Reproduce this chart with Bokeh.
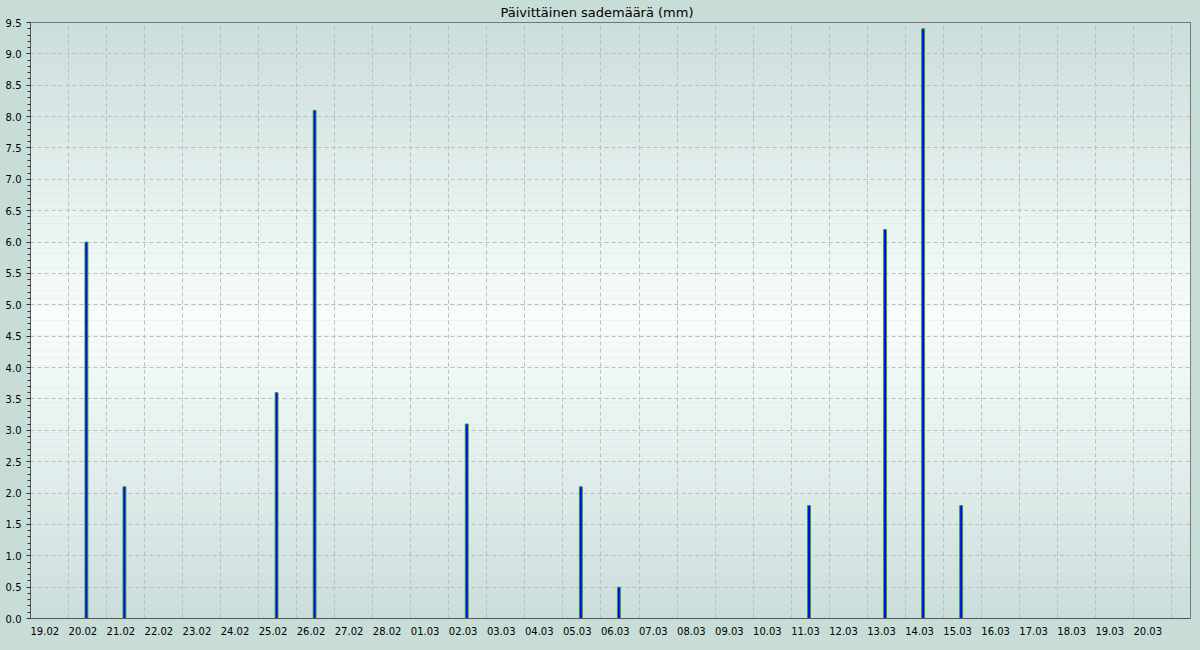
from bokeh.plotting import figure
from bokeh.models import Range1d, FixedTicker, SingleIntervalTicker, PrintfTickFormatter, CustomJSTickFormatter, ColumnDataSource
from bokeh.embed import file_html
from bokeh.resources import INLINE

# ---- data ----
dates = ["19.02", "20.02", "21.02", "22.02", "23.02", "24.02", "25.02", "26.02", "27.02", "28.02",
         "01.03", "02.03", "03.03", "04.03", "05.03", "06.03", "07.03", "08.03", "09.03", "10.03",
         "11.03", "12.03", "13.03", "14.03", "15.03", "16.03", "17.03", "18.03", "19.03", "20.03"]
rain = [0, 6.0, 2.1, 0, 0, 0, 3.6, 8.1, 0, 0,
        0, 3.1, 0, 0, 2.1, 0.5, 0, 0, 0, 0,
        1.8, 0, 6.2, 9.4, 1.8, 0, 0, 0, 0, 0]
title_text = "Päivittäinen sademäärä (mm)"

FONT = "DejaVu Sans"
BG = "#c8dcd8"
X_END = len(dates) + 0.5
Y_END = 9.5

p = figure(width=1200, height=650, output_backend="svg", toolbar_location=None,
           x_range=Range1d(0, X_END), y_range=Range1d(0, Y_END),
           min_border_left=30, min_border_right=10, min_border_top=22, min_border_bottom=32,
           border_fill_color=BG, background_fill_color=BG, title=title_text)
p.outline_line_color = "#555555"
p.outline_line_width = 1

p.title.text_font = FONT
p.title.text_font_size = "13px"
p.title.text_font_style = "normal"
p.title.text_color = "#000000"
p.title.align = "left"
p.title.offset = 470
p.title.standoff = 5

# vertical gradient background inside plot frame
N = 80
c_edge = (203, 222, 219)
c_mid = (248, 253, 253)
bots, tops, cols = [], [], []
for k in range(N):
    y0 = Y_END * k / N
    y1 = Y_END * (k + 1) / N
    t = abs(((y0 + y1) / 2) / Y_END - 0.5) * 2
    c = tuple(int(round(c_mid[j] + (c_edge[j] - c_mid[j]) * t)) for j in range(3))
    bots.append(y0); tops.append(y1); cols.append("#%02x%02x%02x" % c)
p.quad(left=0, right=X_END, bottom=bots, top=tops, fill_color=cols, line_color=None, level="image")

# bars
idx = [i for i, v in enumerate(rain) if v > 0]
src = ColumnDataSource(dict(x=[i + 0.47 for i in idx], top=[rain[i] for i in idx]))
p.vbar(x="x", top="top", bottom=0, width=0.075, source=src,
       fill_color="#0000ff", line_color="#33a033", line_width=1)

# axes
xa = p.xaxis[0]
xa.ticker = FixedTicker(ticks=[i + 0.376 for i in range(len(dates))])
xa.formatter = CustomJSTickFormatter(args=dict(labels=dates),
                                     code="return labels[Math.round(tick - 0.376)] || '';")
xa.major_tick_line_color = None
xa.minor_tick_line_color = None
xa.axis_line_color = "#555555"
xa.major_label_text_font = FONT
xa.major_label_text_font_size = "10px"
xa.major_label_text_color = "#000000"
xa.major_label_standoff = 2

ya = p.yaxis[0]
ya.ticker = SingleIntervalTicker(interval=0.5, num_minor_ticks=5)
ya.formatter = PrintfTickFormatter(format="%.1f")
ya.axis_line_color = "#555555"
ya.major_tick_line_color = "#333333"
ya.minor_tick_line_color = "#333333"
ya.major_tick_in = 0
ya.major_tick_out = 4
ya.minor_tick_in = 0
ya.minor_tick_out = 3
ya.major_label_text_font = FONT
ya.major_label_text_font_size = "10px"
ya.major_label_text_color = "#000000"
ya.major_label_standoff = 5

# grids
p.xgrid.ticker = FixedTicker(ticks=list(range(0, len(dates) + 1)))
for g in (p.xgrid, p.ygrid):
    g.grid_line_color = "#bdbdbd"
    g.grid_line_dash = "4 3"
    g.grid_line_width = 1

html = file_html(p, INLINE, title=title_text)
html = html.replace("</head>",
                    "<style>html,body{margin:0 !important;padding:0;background:%s;overflow:hidden;}</style></head>" % BG, 1)
open("out.html", "w").write(html)
